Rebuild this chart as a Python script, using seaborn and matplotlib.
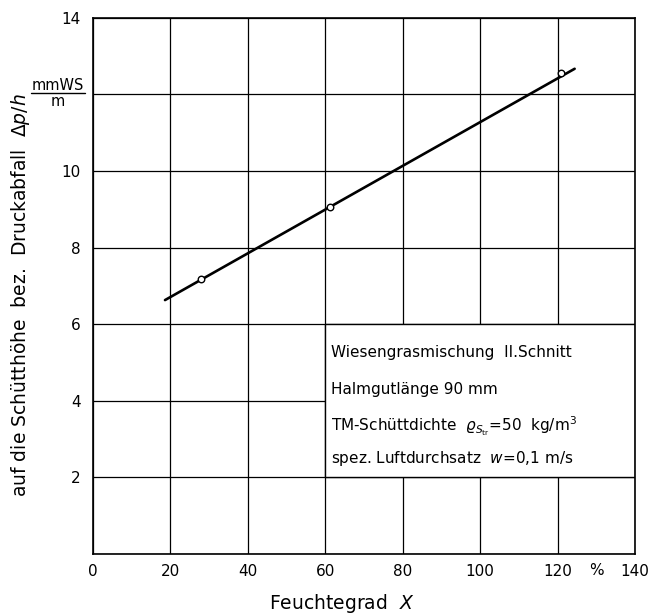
import matplotlib
matplotlib.use("Agg")
import matplotlib.pyplot as plt
import seaborn as sns
import pandas as pd
from matplotlib.patches import Rectangle
from matplotlib.lines import Line2D

# Data
line_x = [18.6, 124.4]
line_y = [6.63, 12.67]
point_x = [27.8, 61.1, 121.0]
point_y = [7.17, 9.05, 12.55]

x_ticks = [0, 20, 40, 60, 80, 100, 120, 140]
x_ticklabels = ["0", "20", "40", "60", "80", "100", "120", "140"]
y_ticks = [0, 2, 4, 6, 8, 10, 12, 14]
y_ticklabels = ["", "2", "4", "6", "8", "10", "", "14"]

info_lines = [
    "Wiesengrasmischung  II.Schnitt",
    "Halmgutlänge 90 mm",
    r"TM-Schüttdichte  $\varrho_{S_{\mathrm{tr}}}$=50  kg/m$^3$",
    r"spez. Luftdurchsatz  $w$=0,1 m/s",
]

sns.set_theme(style="white")
plt.rcParams["font.family"] = ["DejaVu Sans"]
plt.rcParams["mathtext.fontset"] = "dejavusans"
plt.rcParams["text.color"] = "black"
plt.rcParams["axes.labelcolor"] = "black"

fig = plt.figure(figsize=(6.48, 6.15), dpi=100)
ax = fig.add_axes([0.1435, 0.0992, 0.98 - 0.1435, 0.971 - 0.0992])

df_line = pd.DataFrame({"x": line_x, "y": line_y})
df_pts = pd.DataFrame({"x": point_x, "y": point_y})
sns.lineplot(data=df_line, x="x", y="y", ax=ax, color="black", linewidth=1.9, zorder=3)
sns.scatterplot(data=df_pts, x="x", y="y", ax=ax, marker="o", s=22,
                facecolor="white", edgecolor="black", linewidth=1.0, zorder=4)

ax.set_xlim(0, 140)
ax.set_ylim(0, 14)
ax.set_xticks(x_ticks)
ax.set_xticklabels(x_ticklabels)
ax.set_yticks(y_ticks)
ax.set_yticklabels(y_ticklabels)
ax.tick_params(axis="both", length=0, labelsize=11, colors="black",
               labelcolor="black")
ax.tick_params(axis="x", pad=7)
ax.tick_params(axis="y", pad=9)
ax.grid(True, color="black", linewidth=0.9)
ax.set_axisbelow(True)
for s in ax.spines.values():
    s.set_color("black")
    s.set_linewidth(1.2)
ax.set_xlabel("")
ax.set_ylabel("")

# Info box covering grid
rect = Rectangle((60, 2), 80, 4, facecolor="white", edgecolor="black",
                 linewidth=1.0, zorder=2)
ax.add_patch(rect)
ys = [5.15, 4.18, 3.21, 2.38]
for t, yy in zip(info_lines, ys):
    ax.text(61.5, yy, t, fontsize=11, color="black", va="baseline",
            ha="left", zorder=5)

# percent sign on x axis, aligned with tick labels
ax.annotate("%", xy=(130, 0), xycoords=("data", "axes fraction"),
            xytext=(0, -7 - 8), textcoords="offset points",
            fontsize=11, ha="center", va="baseline", color="black")

# axis labels
fig.text(0.527, 0.018, r"Feuchtegrad  $X$", fontsize=13.5, ha="center",
         va="center", color="black")
fig.text(21 / 648, 0.52, r"auf die Schütthöhe  bez.  Druckabfall  $\Delta p/h$",
         fontsize=13.5, rotation=90, ha="center", va="center", color="black")
# unit fraction mmWS / m
fig.text(58 / 648, 1 - 86 / 615, "mmWS", fontsize=10.5, ha="center",
         va="center", color="black")
fig.text(58 / 648, 1 - 102 / 615, "m", fontsize=10.5, ha="center",
         va="center", color="black")
fig.add_artist(Line2D([31 / 648, 85 / 648], [1 - 93 / 615, 1 - 93 / 615],
                      color="black", linewidth=1.0, transform=fig.transFigure))

fig.savefig("out.png", dpi=100)
